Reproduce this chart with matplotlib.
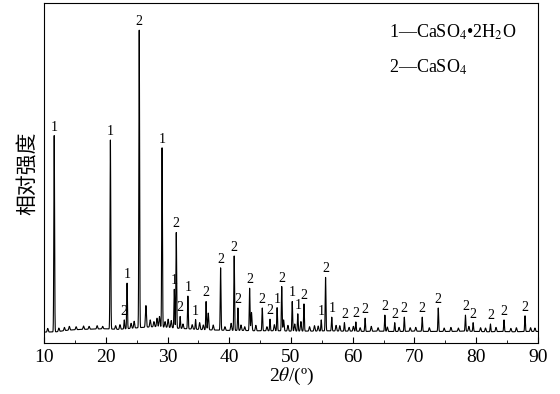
import matplotlib
matplotlib.use("Agg")
import matplotlib.pyplot as plt
import numpy as np

plt.rcParams['font.family'] = ['Liberation Serif', 'DejaVu Serif']
plt.rcParams['mathtext.fontset'] = 'stix'

# baseline every 2 degrees (10 ... 90)
base_x = np.arange(10, 91, 2)
base_y = [3.2, 3.3, 3.8, 4.0, 4.1, 4.2, 4.0, 4.3, 4.6, 4.8,
          4.6, 4.3, 4.1, 3.9, 3.8, 3.7, 3.7, 3.6, 3.6, 3.6,
          3.5, 3.5, 3.5, 3.6, 3.5, 3.5, 3.4, 3.5, 3.4, 3.4,
          3.5, 3.4, 3.4, 3.4, 3.5, 3.4, 3.3, 3.4, 3.3, 3.4, 3.4]

# labelled peaks: position (2theta), top intensity, phase label
peak_pos = [11.65, 20.75, 23.0, 23.45, 25.42, 29.12, 31.1, 31.42, 32.05, 33.3,
            34.55, 36.25, 38.6, 40.8, 41.4, 43.3, 45.35, 46.6, 47.75, 48.5,
            50.2, 51.1, 52.1, 54.9, 55.6, 56.6, 58.65, 60.5, 62.0, 65.2,
            66.8, 68.35, 71.25, 73.85, 78.25, 79.5, 82.3, 84.5, 87.9]
peak_h = [61.0, 59.7, 6.8, 17.6, 92.0, 57.4, 15.8, 32.5, 7.8, 13.8,
          6.9, 12.2, 22.1, 25.6, 10.3, 16.1, 10.3, 7.0, 10.4, 16.6,
          12.2, 8.6, 11.5, 6.8, 19.3, 7.6, 6.0, 6.2, 7.3, 8.2,
          6.0, 7.6, 7.6, 10.3, 8.2, 6.0, 5.6, 6.8, 8.0]
peak_lab = ['1', '1', '2', '1', '2', '1', '1', '2', '2', '1',
            '1', '2', '2', '2', '2', '2', '2', '2', '1', '2',
            '1', '1', '2', '1', '2', '1', '2', '2', '2', '2',
            '2', '2', '2', '2', '2', '2', '2', '2', '2']

# unlabelled small reflections and noise bumps
minor_pos = [10.6, 12.4, 13.3, 14.1, 15.2, 16.4, 17.3, 18.6, 19.5, 21.6,
             22.3, 24.1, 24.6, 26.5, 27.2, 27.8, 28.3, 28.7, 29.6, 30.1,
             30.6, 32.5, 34.0, 35.2, 35.8, 36.6, 37.4, 39.3, 40.3, 41.9,
             42.5, 43.6, 44.3, 46.1, 47.3, 48.8, 49.5, 50.6, 51.6, 53.0,
             53.8, 54.4, 57.3, 57.9, 59.4, 60.1, 61.2, 63.0, 64.1, 65.6,
             67.5, 69.3, 70.2, 72.4, 74.8, 75.9, 77.1, 78.8, 80.7, 81.5,
             83.2, 85.6, 86.5, 88.8, 89.5]
minor_h = [4.3, 4.4, 4.6, 4.9, 4.8, 5.0, 4.9, 5.1, 4.9, 5.1,
           5.4, 5.8, 6.4, 11.0, 6.8, 6.3, 7.3, 7.8, 6.3, 7.0,
           6.6, 5.6, 5.4, 6.0, 5.3, 8.8, 5.3, 4.8, 5.8, 5.3,
           4.8, 9.0, 5.2, 4.8, 5.4, 6.8, 5.2, 5.6, 6.3, 4.8,
           5.1, 5.0, 5.2, 5.1, 4.6, 4.9, 4.5, 4.9, 4.5, 4.7,
           4.6, 4.5, 4.6, 4.5, 4.4, 4.6, 4.4, 4.9, 4.5, 4.4,
           4.6, 4.3, 4.5, 4.5, 4.4]

x = np.arange(10, 90.001, 0.01)
base = np.interp(x, base_x, base_y)
y = base.copy()
for p, h in zip(peak_pos, peak_h):
    amp = h - np.interp(p, base_x, base_y)
    y += amp * np.exp(-0.5 * ((x - p) / 0.06) ** 2)
for p, h in zip(minor_pos, minor_h):
    amp = h - np.interp(p, base_x, base_y)
    y += amp * np.exp(-0.5 * ((x - p) / 0.08) ** 2)

fig = plt.figure(figsize=(5.6, 3.94), dpi=100)
ax = fig.add_axes([0.0786, 0.1294, 0.8821, 0.863])
ax.plot(x, y, color='black', lw=0.8)

for p, h, lab in zip(peak_pos, peak_h, peak_lab):
    ax.text(p, h + 0.6, lab, ha='center', va='bottom', fontsize=10)

ax.set_xlim(10, 90)
ax.set_ylim(0, 100)
ax.set_xticks(np.arange(10, 91, 10))
ax.set_xticks(np.arange(15, 90, 10), minor=True)
ax.set_yticks([])
ax.tick_params(axis='x', which='major', direction='in', length=4, labelsize=14, pad=4)
ax.tick_params(axis='x', which='minor', direction='in', length=2.5)
ax.set_xlabel(r'2$\theta$/(º)', fontsize=14, labelpad=0)
ax.set_ylabel('相对强度', fontsize=15, family=['Noto Sans CJK SC', 'DejaVu Sans'], labelpad=4)

ax.text(0.698, 0.915, r'1—CaSO$_4$•2H$_2$O', transform=ax.transAxes, fontsize=13, va='center')
ax.text(0.698, 0.81, r'2—CaSO$_4$', transform=ax.transAxes, fontsize=13, va='center')

fig.savefig('out.png', dpi=100)
